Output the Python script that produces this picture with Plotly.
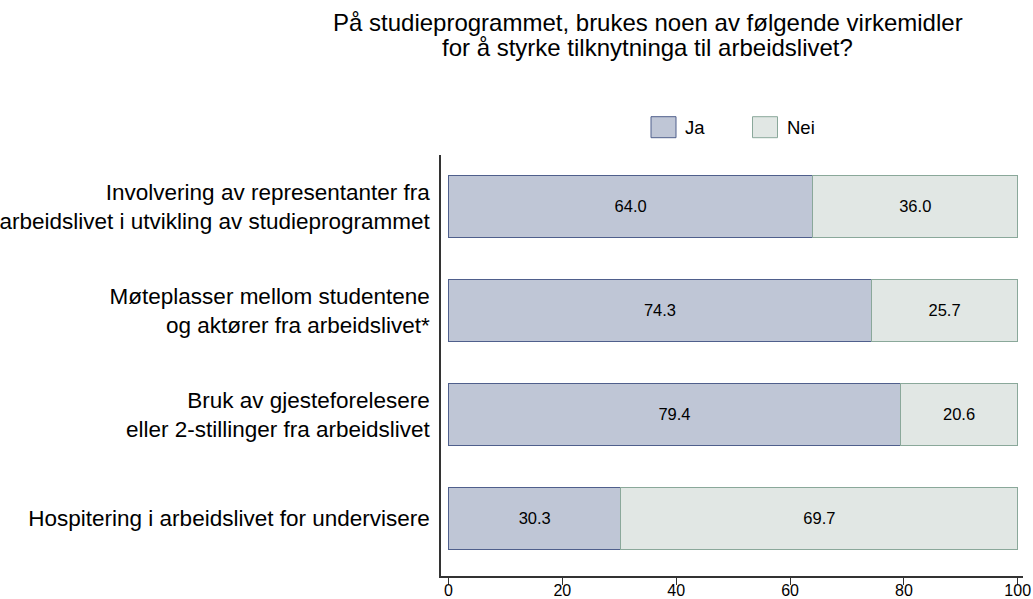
import plotly.graph_objects as go

categories = [
    "Involvering av representanter fra<br>arbeidslivet i utvikling av studieprogrammet",
    "Møteplasser mellom studentene<br>og aktører fra arbeidslivet*",
    "Bruk av gjesteforelesere<br>eller 2-stillinger fra arbeidslivet",
    "Hospitering i arbeidslivet for undervisere",
]
ja = [64.0, 74.3, 79.4, 30.3]
nei = [36.0, 25.7, 20.6, 69.7]
x_ticks = [0, 20, 40, 60, 80, 100]
title_lines = [
    "På studieprogrammet, brukes noen av følgende virkemidler",
    "for å styrke tilknytninga til arbeidslivet?",
]

FONT = "Liberation Sans, Arial, sans-serif"
JA_FILL, JA_LINE = "#bfc6d6", "#4f5f8c"
NEI_FILL, NEI_LINE = "#e1e7e4", "#8aa89a"

fig = go.Figure()
for name, vals, fill, line in [("Ja", ja, JA_FILL, JA_LINE), ("Nei", nei, NEI_FILL, NEI_LINE)]:
    fig.add_trace(go.Bar(
        y=categories, x=vals, name=name, orientation="h",
        marker=dict(color=fill, line=dict(color=line, width=1)),
        width=0.587,
        text=[f"{v:.1f}" for v in vals], textposition="inside",
        insidetextanchor="middle", textangle=0,
        textfont=dict(size=16.5, color="black", family=FONT),
        showlegend=False, hoverinfo="x+y",
    ))

W, H = 1033, 599
L, R, T, B = 441, 10, 155, 23

fig.update_layout(
    width=W, height=H, barmode="stack",
    paper_bgcolor="white", plot_bgcolor="white",
    margin=dict(l=L, r=R, t=T, b=B, autoexpand=False),
    font=dict(family=FONT, color="black"),
    xaxis=dict(range=[-1.32, 100.93], tickvals=x_ticks, ticks="outside", ticklen=7,
               tickcolor="#333", showline=True, linecolor="#333", linewidth=1.5,
               ticklabelstandoff=-8,
               showgrid=False, zeroline=False, tickfont=dict(size=16, color="black")),
    yaxis=dict(range=[3.553, -0.495], showline=True, linecolor="#333", linewidth=1.5,
               showgrid=False, zeroline=False, ticks="", ticklabelstandoff=5,
               tickfont=dict(size=22.5, color="black")),
)

def px_to_paper_x(px):
    return (px - L) / (W - L - R)
def px_to_paper_y(py):
    return 1 - (py - T) / (H - T - B)

# title, one annotation per line
for line_text, ymid in zip(title_lines, [22.5, 47.3]):
    fig.add_annotation(xref="paper", yref="paper", x=px_to_paper_x(647.5),
                       y=px_to_paper_y(ymid), text=line_text, showarrow=False,
                       xanchor="center", yanchor="middle",
                       font=dict(size=24, color="black", family=FONT))

# legend drawn as boxes + labels
for name, fill, line, x0 in [("Ja", JA_FILL, JA_LINE, 651), ("Nei", NEI_FILL, NEI_LINE, 752.5)]:
    fig.add_shape(type="rect", xref="paper", yref="paper",
                  x0=px_to_paper_x(x0), x1=px_to_paper_x(x0 + 25),
                  y0=px_to_paper_y(137.7), y1=px_to_paper_y(116.7),
                  fillcolor=fill, line=dict(color=line, width=1))
    fig.add_annotation(xref="paper", yref="paper", x=px_to_paper_x(x0 + 32),
                       y=px_to_paper_y(127.5), text=name, showarrow=False,
                       xanchor="left", yanchor="middle",
                       font=dict(size=18.5, color="black", family=FONT))

fig.write_html("out.html", config={"displayModeBar": False},
               post_script="document.body.style.margin='0';document.body.style.overflow='hidden';")
